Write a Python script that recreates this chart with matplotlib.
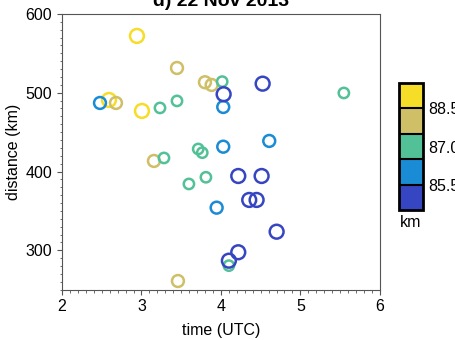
import numpy as np
import matplotlib
matplotlib.use("Agg")
import matplotlib.pyplot as plt
from matplotlib.colors import ListedColormap, BoundaryNorm
from matplotlib.ticker import MultipleLocator

plt.rcParams['font.family'] = ['Liberation Sans', 'DejaVu Sans']

# time (UTC), distance (km), colour value (km)
time_utc = [2.943, 2.591, 3.006,
            3.447, 2.679, 3.799, 3.883, 3.157, 3.459,
            4.016, 3.233, 3.447, 3.283, 3.714, 3.765, 3.597, 3.811, 4.100, 5.547,
            2.478, 4.029, 4.029, 4.608, 3.946,
            4.034, 4.525, 4.218, 4.512, 4.356, 4.449, 4.701, 4.218, 4.100]
distance = [572.1, 490.8, 476.9,
            531.4, 487.0, 513.3, 509.9, 413.4, 261.0,
            514.1, 480.7, 489.6, 417.2, 428.6, 423.9, 384.2, 392.7, 280.5, 499.7,
            487.0, 481.9, 431.5, 438.8, 354.1,
            498.1, 511.5, 394.3, 394.3, 363.9, 363.9, 323.6, 297.5, 286.8]
value = [89.0] * 3 + [88.0] * 6 + [87.0] * 10 + [86.0] * 5 + [85.0] * 9

bounds = [84.5, 85.5, 86.5, 87.5, 88.5, 89.5]
colors = ['#3646c2', '#1a8bd5', '#52c197', '#cfbf66', '#f6dd27']
cbar_ticks = [85.5, 87.0, 88.5]

cmap = ListedColormap(colors)
norm = BoundaryNorm(bounds, cmap.N)

t = np.array(time_utc)
d = np.array(distance)
v = np.array(value)
# circle size grows with distance from the middle class
sizes = 55 + 18 * np.abs(v - 87.0) ** 1.3

fig = plt.figure(figsize=(4.56, 3.40), dpi=100)
ax = fig.add_axes([0.136, 0.148, 0.697, 0.811])

edge = cmap(norm(v))
ax.scatter(t, d, s=sizes, facecolors='none', edgecolors=edge, linewidths=1.8)

ax.set_xlim(2, 6)
ax.set_ylim(250, 600)
ax.xaxis.set_major_locator(MultipleLocator(1))
ax.xaxis.set_minor_locator(MultipleLocator(0.1))
ax.yaxis.set_major_locator(MultipleLocator(100))
ax.yaxis.set_minor_locator(MultipleLocator(10))
ax.tick_params(which='major', length=3.5, width=0.8, labelsize=11.5, color='#555555')
ax.tick_params(which='minor', length=1.8, width=0.6, color='#555555')
for s in ax.spines.values():
    s.set_color('#555555')
    s.set_linewidth(0.8)

ax.set_xlabel('time (UTC)', fontsize=11.5, labelpad=6)
ax.set_ylabel('distance (km)', fontsize=11.5, labelpad=3)
ax.set_title('d) 22 Nov 2013', fontsize=14, fontweight='bold', pad=6)

cax = fig.add_axes([0.875, 0.382, 0.053, 0.374])
sm = plt.cm.ScalarMappable(cmap=cmap, norm=norm)
cb = fig.colorbar(sm, cax=cax, boundaries=bounds, ticks=cbar_ticks,
                  drawedges=True)
cb.outline.set_linewidth(2)
cb.outline.set_edgecolor('black')
cb.dividers.set_color('black')
cb.dividers.set_linewidth(1.5)
cb.ax.minorticks_off()
cb.ax.tick_params(length=0, labelsize=11.5, pad=4)
cb.ax.set_yticklabels([f'{x:.1f}' for x in cbar_ticks])
fig.text(0.877, 0.347, 'km', fontsize=11.5, ha='left', va='center')

fig.savefig('out.png', dpi=100)
